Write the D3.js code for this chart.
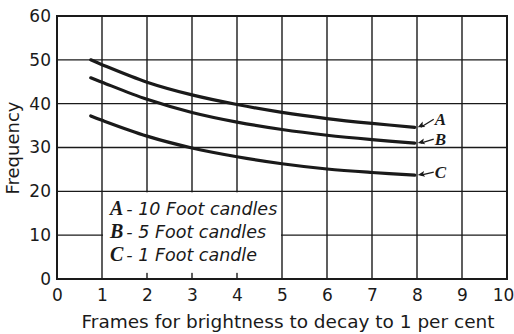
<!DOCTYPE html>
<html>
<head>
<meta charset="utf-8">
<script src="https://cdn.jsdelivr.net/npm/d3@7"></script>
<style>
  html, body { margin: 0; padding: 0; background: #fff; }
  svg { display: block; }
</style>
</head>
<body>
<svg id="chart" width="514" height="334"></svg>
<script>
// Decay time (frames) at which each curve is sampled
const frames = [0.75, 1, 2, 3, 4, 5, 6, 7, 7.95];
// Critical frequency for three illumination levels
const seriesA = [50.0, 48.9, 44.9, 42.0, 39.8, 38.0, 36.6, 35.5, 34.6];
const seriesB = [45.9, 44.9, 41.0, 38.0, 35.8, 34.1, 32.8, 31.8, 31.0];
const seriesC = [37.2, 36.2, 32.6, 29.9, 27.9, 26.3, 25.1, 24.3, 23.7];
const seriesNames = ["A", "B", "C"];
const legendLetters = ["A", "B", "C"];
const legendTexts = ["- 10 Foot candles", "- 5 Foot candles", "- 1 Foot candle"];
const xTicks = [0, 1, 2, 3, 4, 5, 6, 7, 8, 9, 10];
const yTicks = [0, 10, 20, 30, 40, 50, 60];
const xTitle = "Frames for brightness to decay to 1 per cent";
const yTitle = "Frequency";

const svg = d3.select("#chart");
const ink = "#1a1a1a";
const sans = "'DejaVu Sans', 'Noto Sans', sans-serif";
const serif = "'Liberation Serif', 'DejaVu Serif', serif";

const x = d3.scaleLinear().domain([0, 10]).range([57, 507]);
const y = d3.scaleLinear().domain([0, 60]).range([279, 16]);

// Grid
const grid = svg.append("g").attr("stroke", ink).attr("stroke-width", 1.4);
grid.selectAll("line.v").data(xTicks.slice(1, -1)).join("line")
  .attr("x1", d => x(d)).attr("x2", d => x(d))
  .attr("y1", y(60)).attr("y2", y(0));
grid.selectAll("line.h").data(yTicks.slice(1, -1)).join("line")
  .attr("x1", x(0)).attr("x2", x(10))
  .attr("y1", d => y(d)).attr("y2", d => y(d));

// Legend panel blanks the grid behind it (x 1..5, y ~1.4..20)
svg.append("rect")
  .attr("x", x(1) + 1).attr("y", y(20) + 1)
  .attr("width", x(5) - x(1) - 2).attr("height", y(1.4) - y(20) - 1)
  .attr("fill", "#fff");

// Frame
svg.append("rect")
  .attr("x", x(0)).attr("y", y(60))
  .attr("width", x(10) - x(0)).attr("height", y(0) - y(60))
  .attr("fill", "none").attr("stroke", ink).attr("stroke-width", 2);

// Axes (labels only, no tick marks)
const xAxis = svg.append("g").attr("transform", `translate(0,${y(0)})`)
  .call(d3.axisBottom(x).tickValues(xTicks).tickSize(0).tickPadding(10).tickFormat(d3.format("d")));
const yAxis = svg.append("g").attr("transform", `translate(${x(0)},0)`)
  .call(d3.axisLeft(y).tickValues(yTicks).tickSize(0).tickPadding(6).tickFormat(d3.format("d")));
[xAxis, yAxis].forEach(a => {
  a.select(".domain").remove();
  a.selectAll("text").attr("font-family", sans).attr("font-size", 17).attr("fill", ink);
});
xAxis.selectAll("text").filter(d => d === 10).attr("dx", -4);

// Curves
const line = d3.line().x(d => x(d[0])).y(d => y(d[1])).curve(d3.curveCatmullRom.alpha(0.5));
const allSeries = [seriesA, seriesB, seriesC];
svg.append("g").selectAll("path").data(allSeries).join("path")
  .attr("d", s => line(frames.map((f, i) => [f, s[i]])))
  .attr("fill", "none").attr("stroke", ink).attr("stroke-width", 3.2)
  .attr("stroke-linecap", "round");

// Curve labels with small arrows pointing to the curve ends
const lastX = frames[frames.length - 1];
const labelRise = [8, 4, 3];
allSeries.forEach((s, i) => {
  const ex = x(lastX) + 3, ey = y(s[s.length - 1]);
  const cy = ey - labelRise[i];     // vertical centre of the letter
  const ax = ex + 16;
  svg.append("line")
    .attr("x1", ax).attr("y1", cy).attr("x2", ex + 3).attr("y2", ey)
    .attr("stroke", ink).attr("stroke-width", 1.2);
  const ang = Math.atan2(cy - ey, ax - ex) * 180 / Math.PI;
  svg.append("path")
    .attr("d", "M0,0 l7,-3 l-1.5,3 l1.5,3 z")
    .attr("transform", `translate(${ex},${ey}) rotate(${ang})`)
    .attr("fill", ink);
  svg.append("text")
    .attr("x", ax + 1).attr("y", cy + 6)
    .attr("font-family", serif)
    .attr("font-style", "italic").attr("font-weight", "bold")
    .attr("font-size", 17).attr("fill", ink)
    .text(seriesNames[i]);
});

// Legend
const legendY = [215, 238, 261];
legendLetters.forEach((L, i) => {
  const t = svg.append("text").attr("x", x(1) + 8).attr("y", legendY[i]).attr("fill", ink);
  t.append("tspan")
    .attr("font-family", serif)
    .attr("font-style", "italic").attr("font-weight", "bold").attr("font-size", 20)
    .text(L);
  t.append("tspan")
    .attr("dx", 3)
    .attr("font-family", sans).attr("font-style", "italic").attr("font-size", 17.5)
    .text(legendTexts[i]);
});

// Axis titles
svg.append("text")
  .attr("x", 288).attr("y", 328)
  .attr("text-anchor", "middle")
  .attr("font-family", sans).attr("font-size", 18).attr("fill", ink)
  .attr("textLength", 413).attr("lengthAdjust", "spacingAndGlyphs")
  .text(xTitle);
svg.append("text")
  .attr("transform", "translate(19,148) rotate(-90)")
  .attr("text-anchor", "middle")
  .attr("font-family", sans).attr("font-size", 18).attr("fill", ink)
  .text(yTitle);
</script>
</body>
</html>
